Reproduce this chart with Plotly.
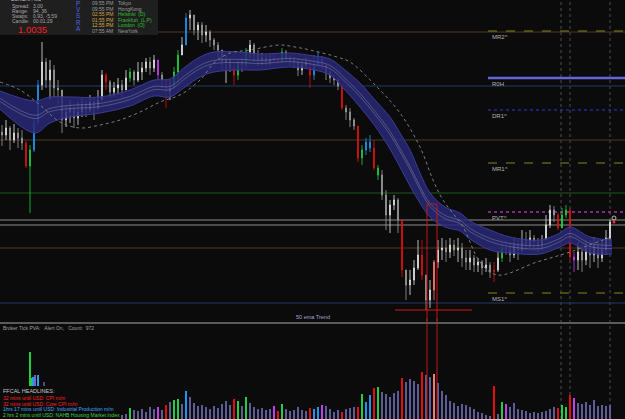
import plotly.graph_objects as go

W, H = 625, 419
FONT = "Liberation Sans"

# ---------------- price data (points = 1e-5 above 1.00000) ----------------
open0 = 448
close_pts = [445,452,440,447,442,437,414,430,458,495,
 518,500,510,492,490,460,468,472,462,468,
 475,470,478,472,480,505,498,488,492,495,
 490,502,508,500,508,512,518,512,520,505,
 500,488,492,508,525,535,562,565,550,555,
 545,548,540,535,530,518,520,512,505,518,
 515,528,535,525,520,522,518,520,522,518,
 528,522,520,518,510,515,518,505,515,522,
 515,508,502,500,494,472,468,460,454,422,
 430,438,432,412,405,385,365,375,380,360,
 310,295,300,312,325,305,280,290,318,330,
 332,328,335,330,332,322,318,322,315,318,
 312,315,308,310,322,332,330,325,335,330,
 340,335,342,338,335,340,355,370,365,352,
 365,370,323,320,328,320,332,325,335,322,
 330,342,358]
high_pts = [455,460,454,456,452,450,439,435,462,500,
 538,522,520,515,500,480,475,480,475,478,
 482,480,485,483,490,510,507,500,498,502,
 500,510,512,510,518,518,522,523,525,515,
 508,500,500,513,530,543,567,570,562,558,
 558,555,550,542,538,530,525,522,518,520,
 523,532,540,537,530,527,525,525,527,523,
 532,530,525,523,522,520,523,522,525,528,
 524,515,510,505,502,492,475,472,462,450,
 435,442,445,440,415,410,390,380,385,382,
 345,305,310,320,340,340,302,300,320,340,
 342,340,342,340,342,337,330,330,325,322,
 320,322,318,318,328,338,340,337,342,340,
 350,348,350,345,342,345,365,375,374,367,
 372,375,372,328,338,335,340,340,343,340,
 340,350,360]
low_pts = [434,440,430,437,432,430,412,367,428,455,
 490,492,480,482,475,447,453,457,452,455,
 463,463,468,460,470,480,490,482,483,485,
 483,490,498,495,498,500,508,505,508,500,
 492,472,480,492,497,525,542,550,545,540,
 537,538,533,530,522,510,497,508,495,500,
 508,512,522,518,514,515,514,515,517,516,
 517,518,515,512,504,505,512,492,500,514,
 510,500,497,495,490,470,460,453,450,418,
 415,425,428,410,400,380,350,347,370,347,
 303,280,285,295,310,300,270,272,280,312,
 320,318,322,324,318,313,310,310,308,308,
 305,308,302,298,308,318,325,318,322,320,
 328,330,332,330,328,330,340,352,358,350,
 352,362,320,308,310,308,315,312,318,312,
 318,325,335]

# PVA colored candles (bar indices)
red_idx = [6, 26, 41, 58, 69, 77, 85, 89, 93, 100, 105, 123, 139, 142]
green_idx = [7, 32, 43, 44, 59, 61, 70, 90, 94, 125, 140, 141]
blue_idx = [8, 9, 46, 78, 79, 91, 92]
magenta_idx = [39, 68, 80, 126, 143]
pink_idx = [108]

# volume (ticks) for bars 30..152
vol_start = 30
volume = [4,5,11,9,8,10,7,12,10,12,
 9,14,17,19,20,15,28,22,16,13,
 14,12,10,13,11,15,18,14,20,18,
 13,22,16,12,10,11,9,10,13,8,
 15,10,8,9,12,9,8,11,10,12,
 14,13,10,7,9,7,10,11,12,12,
 25,17,24,31,32,27,25,22,26,28,
 41,37,40,38,35,47,44,42,45,36,
 28,24,18,16,13,15,14,12,10,7,
 6,4,3,33,5,17,15,12,16,10,
 9,8,6,7,6,7,8,10,12,11,
 14,12,24,21,16,15,17,14,19,13,14,13,14]

# EMA cloud (sparse readings)
band_x = [-0.5, 8.25, 12, 17, 24.5, 32, 38, 42, 45.75, 49.5, 53, 59.5, 64.5, 72, 78, 82,
          85.75, 89.5, 93.25, 97, 99.5, 102, 104.5, 107, 110.75, 114.5, 117, 122, 127,
          134.5, 139.5, 142, 147, 152.5]
band_mid = [480, 463, 470, 473, 475, 482, 492, 492, 503, 513, 518, 519, 518, 520, 517, 513,
            500, 485, 467, 447, 430, 412, 392, 375, 363, 358, 350, 340, 335, 333, 340, 345, 335, 333]
band_half = [9, 16, 13, 10, 8, 8, 8, 9, 10, 10, 10, 9, 8, 7, 7, 8,
             10, 12, 13, 16, 17, 18, 15, 12, 10, 9, 9, 10, 8, 7, 7, 8, 8, 7]

# 50 ema trend (dotted)
ema50_x = [-0.5, 4.5, 9.5, 14.5, 19.5, 24.5, 29.5, 34.5, 39.5, 44.5, 49.5, 53.25, 57, 62, 69.5,
           73.25, 77, 83.75, 87, 93.75, 99.5, 104.5, 107.75, 110.25, 115.25, 119.5, 123.75,
           133.75, 142, 150.25, 152.5]
ema50 = [498, 490, 475, 458, 452, 455, 460, 468, 478, 485, 500, 518, 527, 530, 535,
         533, 530, 523, 518, 493, 467, 433, 400, 380, 353, 318, 305, 318, 328, 340, 343]

# pivot levels
level_names = ["MR2^", "R0H", "DR1^", "MR1^", "PVT^", "MS1^"]
level_vals = [549, 502, 470, 417, 368, 287]
level_cols = ["#85851c", "#6464d8", "#3434d8", "#85851c", "#a634a6", "#85851c"]
level_dash = ["dash", "solid", "dot", "dash", "dot", "dash"]
level_width = [1, 2.5, 1.2, 1, 1.5, 1]
pivot_start = 121.5

# full width reference lines
hline_vals = [548, 494, 440, 387, 360, 355, 332, 277]
hline_cols = ["#4a3b1e", "#223a66", "#4a3b1e", "#1d5a1d", "#8c8c8c", "#8c8c8c", "#4a3b1e", "#223a66"]

session_marks = [139.75, 142, 152]
box_x = [106.25, 108.75]
box_top = 376
low_line = dict(x0=98.25, x1=117.5, y=270)

# PVA legend histogram (volume panel, left)
legend_x = [7, 7.5, 7.9, 8.3, 9, 10.5]
legend_h = [34, 8, 9, 11, 11, 4]
legend_c = ["#22cc44", "#22cc44", "#2a9af0", "#6a6ab0", "#2a9af0", "#4a4a88"]
legend_base = 33

def price(v):
    return 1 + v / 100000.0

n = len(close_pts)
idx = list(range(n))
opens = [open0] + close_pts[:-1]
O = [price(v) for v in opens]
C = [price(v) for v in close_pts]
Hh = [price(max(h, o, c)) for h, o, c in zip(high_pts, opens, close_pts)]
Ll = [price(min(l, o, c)) for l, o, c in zip(low_pts, opens, close_pts)]

fig = go.Figure()

# cloud
up = [price(m + h) for m, h in zip(band_mid, band_half)]
dn = [price(m - h) for m, h in zip(band_mid, band_half)]
fig.add_trace(go.Scatter(x=band_x, y=up, mode="lines", line=dict(color="#3c3c98", width=1, shape="spline"),
                         hoverinfo="skip", showlegend=False))
fig.add_trace(go.Scatter(x=band_x, y=dn, mode="lines", line=dict(color="#3c3c98", width=1, shape="spline"),
                         fill="tonexty", fillcolor="rgba(40,40,118,0.85)", hoverinfo="skip", showlegend=False))
for off in (1.6, -1.6):
    fig.add_trace(go.Scatter(x=band_x, y=[price(m + off) for m in band_mid], mode="lines",
                             line=dict(color="rgba(185,185,210,0.55)", width=0.6, shape="spline"),
                             hoverinfo="skip", showlegend=False))
fig.add_trace(go.Scatter(x=ema50_x, y=[price(v) for v in ema50], mode="lines",
                         line=dict(color="#7c7c7c", width=1, dash="dot", shape="spline"),
                         hoverinfo="skip", showlegend=False))

def candle(ids, inc, dec):
    return go.Candlestick(x=ids, open=[O[i] for i in ids], high=[Hh[i] for i in ids],
                          low=[Ll[i] for i in ids], close=[C[i] for i in ids],
                          increasing=dict(line=dict(color=inc, width=0.8), fillcolor=inc),
                          decreasing=dict(line=dict(color=dec, width=0.8), fillcolor=dec),
                          whiskerwidth=0, hoverinfo="skip", showlegend=False)

groups = [("#e01010", red_idx), ("#20d040", green_idx), ("#2094f0", blue_idx),
          ("#c040f0", magenta_idx), ("#ff7878", pink_idx)]
colored = set(i for _, g in groups for i in g)
plain = [i for i in idx if i not in colored]
fig.add_trace(candle(plain, "#e4e4e4", "#9c9c9c"))
for col, g in groups:
    fig.add_trace(candle(g, col, col))

# last price markers
fig.add_trace(go.Scatter(x=[n], y=[C[-1]], mode="markers", marker=dict(color="#ff2020", size=3),
                         hoverinfo="skip", showlegend=False))
fig.add_trace(go.Scatter(x=[n], y=[price(close_pts[-1] + 4)], mode="markers",
                         marker=dict(color="rgba(0,0,0,0)", size=4, line=dict(color="#bbbbbb", width=1)),
                         hoverinfo="skip", showlegend=False))

# volume
vx = list(range(vol_start, vol_start + len(volume)))
col_of = {}
for col, g in groups:
    for i in g:
        col_of[i] = col
vcols = [col_of.get(i, "#5c5c96") for i in vx]
fig.add_trace(go.Bar(x=vx, y=volume, marker=dict(color=vcols, line=dict(width=0)), width=0.5,
                     xaxis="x2", yaxis="y2", hoverinfo="skip", showlegend=False))
fig.add_trace(go.Bar(x=legend_x, y=legend_h, base=legend_base, marker=dict(color=legend_c, line=dict(width=0)),
                     width=0.35, xaxis="x2", yaxis="y2", hoverinfo="skip", showlegend=False))

XR = [-0.5, W / 4 - 0.5]
shapes = []
for v, c in zip(hline_vals, hline_cols):
    shapes.append(dict(type="line", xref="x", yref="y", x0=XR[0], x1=XR[1], y0=price(v), y1=price(v),
                       line=dict(color=c, width=1), layer="below"))
for v, c, d, w in zip(level_vals, level_cols, level_dash, level_width):
    shapes.append(dict(type="line", xref="x", yref="y", x0=pivot_start, x1=XR[1], y0=price(v), y1=price(v),
                       line=dict(color=c, width=w, dash=d), layer="below"))
for m in session_marks:
    shapes.append(dict(type="line", xref="x", yref="paper", x0=m, x1=m, y0=0, y1=1,
                       line=dict(color="#4e4e4e", width=1, dash="dot"), layer="below"))
# red box
for bx in box_x:
    shapes.append(dict(type="line", xref="x", yref="y", x0=bx, x1=bx, y0=price(box_top), y1=price(200),
                       line=dict(color="#c01818", width=1)))
    shapes.append(dict(type="line", xref="x", yref="paper", x0=bx, x1=bx, y0=0, y1=0.24,
                       line=dict(color="#c01818", width=1)))
shapes.append(dict(type="line", xref="x", yref="y", x0=box_x[0], x1=box_x[1], y0=price(box_top), y1=price(box_top),
                   line=dict(color="#c01818", width=1)))
shapes.append(dict(type="line", xref="x", yref="y", x0=low_line["x0"], x1=low_line["x1"],
                   y0=price(low_line["y"]), y1=price(low_line["y"]), line=dict(color="#d01818", width=1)))
# panel separator
sep = 1 - 323 / H
shapes.append(dict(type="line", xref="paper", yref="paper", x0=0, x1=1, y0=sep, y1=sep,
                   line=dict(color="#5a5a5a", width=2)))
# info box
shapes.append(dict(type="rect", xref="paper", yref="paper", x0=0, x1=158 / W, y0=1 - 35 / H, y1=1.01,
                   fillcolor="#1f1f1f", line=dict(width=0), layer="above"))

ann = []
def txt(xp, yp, s, color, size, anchor="left"):
    ann.append(dict(x=xp / W, y=1 - yp / H, xref="paper", yref="paper", text=s, showarrow=False,
                    xanchor=anchor, yanchor="middle", font=dict(color=color, size=size, family=FONT),
                    borderpad=0))

info_labels = ["Spread:", "Range:", "Swaps:", "Candle:"]
info_values = ["3.00", "94, 36", "0.93, -5.59", "00:01:29"]
for k, (a, b) in enumerate(zip(info_labels, info_values)):
    yy = 5.6 + 5.0 * k
    txt(11, yy, a, "#a8a8a8", 5.0)
    txt(32, yy, b, "#a8a8a8", 5.0)
txt(10, -0.6, "EURCHF, M5", "#d0d0d0", 5.0)
txt(17, 29.3, "1.0035", "#ff1c1c", 9.5)
for k, ch in enumerate("PVSRA"):
    txt(78, 3.5 + 6.2 * k, ch, "#4a66e6", 6.3, anchor="center")
session_times = ["09:55 PM", "09:55 PM", "02:55 PM", "01:55 PM", "12:55 PM", "07:55 AM"]
session_names = ["Tokyo", "HongKong", "Helsinki  (D)", "Frankfurt  (L,P)", "London  (O)", "NewYork"]
time_cols = ["#9a9a9a", "#9a9a9a", "#d8a040", "#d8a040", "#d8b040", "#9a9a9a"]
name_cols = ["#9a9a9a", "#9a9a9a", "#30c030", "#30c030", "#30c030", "#9a9a9a"]
for k in range(6):
    yy = 3 + 5.5 * k
    txt(91, yy, session_times[k], time_cols[k], 5)
    txt(117, yy, session_names[k], name_cols[k], 5)

for name, v, c in zip(level_names, level_vals, level_cols):
    ann.append(dict(x=pivot_start + 0.5, y=price(v), xref="x", yref="y", text=name, showarrow=False,
                    xanchor="left", yanchor="top", yshift=-1, font=dict(color="#b4b4b4", size=6, family=FONT)))

txt(313, 317, "50 ema Trend", "#a4a4d4", 5.5, anchor="center")
txt(2, 328, "Broker Tick PVA:   Alert On,   Count:  972", "#a0a0a0", 5)
txt(2, 391, "FFCAL HEADLINES:", "#c8c8c8", 5.5)
headlines = ["32 mins until USD: CPI m/m", "32 mins until USD: Core CPI m/m",
             "1hrs 17 mins until USD: Industrial Production m/m",
             "2 hrs 2 mins until USD: NAHB Housing Market Index"]
head_cols = ["#ff2020", "#ff2020", "#40a8ff", "#40d040"]
for k, (s, c) in enumerate(zip(headlines, head_cols)):
    txt(2, 398 + 5.7 * k, s, c, 5)

fig.update_layout(
    width=W, height=H, margin=dict(l=0, r=0, t=0, b=0),
    paper_bgcolor="#0b0b0b", plot_bgcolor="#0b0b0b",
    showlegend=False, boxgap=0.65,
    xaxis=dict(range=XR, visible=False, rangeslider=dict(visible=False), anchor="y", fixedrange=True),
    yaxis=dict(domain=[1 - 321 / H, 1], range=[price(259), price(580)], visible=False),
    xaxis2=dict(range=XR, visible=False, anchor="y2", matches="x"),
    yaxis2=dict(domain=[0, 1 - 325 / H], range=[0, 94], visible=False),
    shapes=shapes, annotations=ann, bargap=0,
)
fig.write_html("out.html")
